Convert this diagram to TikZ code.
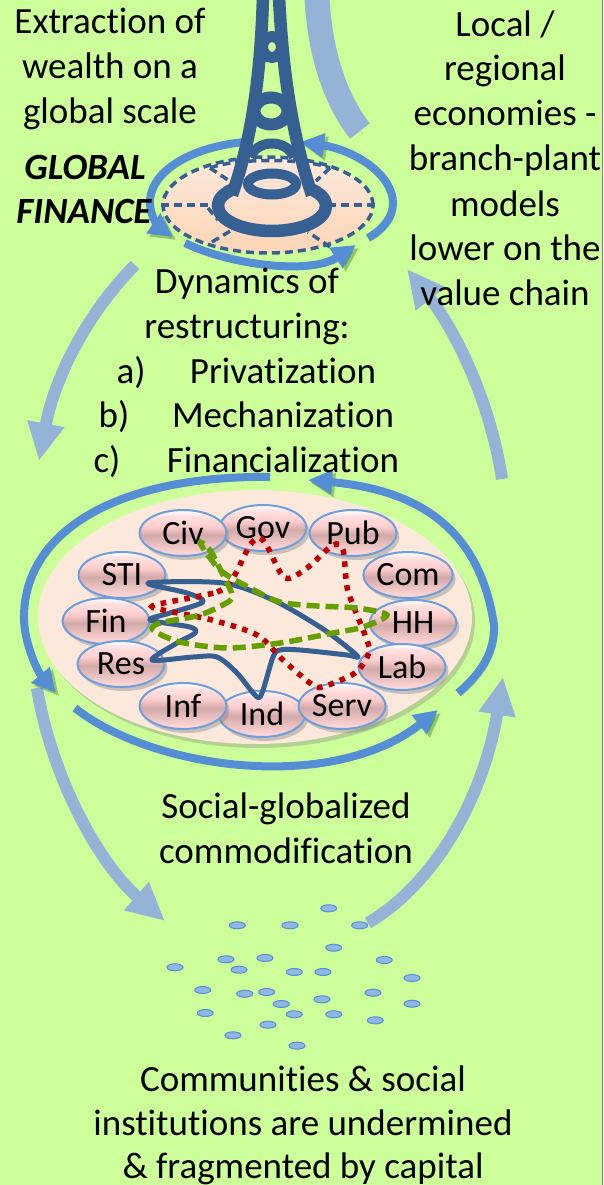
\documentclass[tikz,border=0pt]{standalone}
\usepackage{fontspec}
\setmainfont{Carlito}[RawFeature = {-liga;-clig;-calt}]
\usetikzlibrary{arrows.meta,shapes.geometric,shadows}

\definecolor{pagegreen}{HTML}{CCFF99}
\definecolor{paleblue}{HTML}{95B3D7}
\definecolor{midblue}{HTML}{558ED5}
\definecolor{deepblue}{HTML}{376092}
\definecolor{peach}{HTML}{FCE9DC}
\definecolor{peachdark}{HTML}{FCD5B5}
\definecolor{dotred}{HTML}{C00000}
\definecolor{dashgreen}{HTML}{669F00}

\pgfdeclareverticalshading{pinkball}{100bp}{
	color(0bp)=(pink!65!white);
	color(25bp)=(pink!65!white);
	color(28bp)=(pink!65!white);
	color(48bp)=(pink!65!gray);
	color(58bp)=(pink!75!white);
	color(68bp)=(pink!50!white);
	color(75bp)=(white);
	color(100bp)=(white)}

\tikzset{
	softshadow/.style = {preaction = {draw = black!70!green, opacity = .3, transform canvas = {shift = {(3pt, -3pt)}}}},
	ball/.style = {ellipse, draw = midblue!85!white, line width = 2pt, shading = pinkball, minimum width = 87pt, minimum height = 46pt, inner sep = 0pt, font = \fontsize{34}{34}\selectfont, drop shadow = {shadow xshift = 3pt, shadow yshift = -4pt, opacity = .4}},
	speck/.style = {ellipse, draw = midblue, line width = 1pt, fill = midblue!65!white, minimum width = 16pt, minimum height = 7pt, inner sep = 0pt},
	words/.style = {anchor = base, inner sep = 0pt, font = \fontsize{37}{37}\selectfont},
	bigwords/.style = {words, font = \fontsize{37}{37}\selectfont\bfseries\itshape},
	palearrow/.style = {draw = paleblue, line width = 12pt, -{Triangle[length = 38pt, width = 35pt]}},
	midarc/.style = {draw = midblue, line width = 8pt, softshadow, -{Triangle[length = 24pt, width = 23pt]}},
	towerline/.style = {draw = deepblue, line width = 12.5pt},
	webline/.style = {draw = deepblue, line width = 3.5pt, dash pattern = on 8pt off 5pt},
	solidloop/.style = {draw = deepblue, line width = 5pt, line join = round},
	redloop/.style = {draw = dotred, line width = 5.5pt, dash pattern = on 5.5pt off 6.5pt},
	greenloop/.style = {draw = dashgreen, line width = 5.5pt, dash pattern = on 13pt off 6pt}
}

\begin{document}
\begin{tikzpicture}[x = 1pt, y = -1pt]
	\path [use as bounding box, fill = pagegreen] (0, 0) rectangle (603, 1185);
	\draw [gray, line width = 1pt] (602.5, 0) -- (602.5, 1185);

	% top plate
	\node [ellipse, draw = none, minimum width = 210pt, minimum height = 96pt, inner sep = 0pt, top color = peach, bottom color = peachdark] (plate) at (268, 205) {};
	\node [ellipse, webline, minimum width = 210pt, minimum height = 96pt, inner sep = 0pt] (rim) at (268, 205) {};
	\draw [webline] (210, 168) .. controls (235, 158) and (305, 158) .. (330, 168);
	\draw [webline] (210, 168) -- (228, 180);
	\draw [webline] (330, 168) -- (316, 181);
	\draw [webline] (rim.west) -- (210, 205);
	\draw [webline] (rim.east) -- (332, 205);
	\draw [webline] (212, 242) -- (232, 230);
	\draw [webline] (330, 247) -- (308, 232);
	\draw [webline] (208, 208) -- (218, 220);

	% arcs round the plate
	\coordinate (plateA) at (245, 142);
	\coordinate (plateB) at (173, 237);
	\coordinate (plateC) at (368, 238);
	\coordinate (plateD) at (300, 142);
	\coordinate (plateE) at (185, 243);
	\coordinate (plateF) at (356, 245);
	\draw [midarc] (plateA) .. controls (190, 147) and (148, 172) .. (150, 205) .. controls (151, 218) and (160, 228) .. (plateB);
	\draw [midarc] (plateC) .. controls (385, 228) and (393, 216) .. (393, 203) .. controls (393, 175) and (355, 150) .. (plateD);
	\draw [midarc] (plateE) .. controls (230, 265) and (310, 275) .. (plateF);

	% pale band on top
	\coordinate (bandA) at (317, -4);
	\coordinate (bandB) at (360, 131);
	\draw [draw = paleblue, line width = 25pt, softshadow] (bandA) .. controls (319, 50) and (335, 100) .. (bandB);

	% tower
	\draw [towerline] (263, -3) .. controls (261, 60) and (255, 130) .. (232, 195);
	\draw [towerline] (279, -3) .. controls (282, 60) and (290, 130) .. (312, 195);
	\node [ellipse, draw = deepblue, line width = 11pt, minimum width = 19pt, minimum height = 21pt, inner sep = 0pt] (ringA) at (272, 47) {};
	\node [ellipse, draw = deepblue, line width = 12pt, minimum width = 33pt, minimum height = 27pt, inner sep = 0pt] (ringB) at (271, 111) {};
	\draw [towerline, line width = 10pt] (250, 157) .. controls (258, 139) and (286, 139) .. (294, 157);
	\node [ellipse, draw = deepblue, line width = 10pt, minimum width = 48pt, minimum height = 21pt, inner sep = 0pt] (ringC) at (272, 184) {};
	\draw [towerline] (236, 188) .. controls (225, 192) and (218, 198) .. (218, 206) .. controls (218, 220) and (242, 231) .. (272, 231) .. controls (302, 231) and (326, 220) .. (326, 206) .. controls (326, 198) and (319, 192) .. (308, 188);

	% long arrows
	\coordinate (leftA) at (135, 265);
	\coordinate (leftB) at (39, 461);
	\coordinate (rightA) at (502, 479);
	\coordinate (rightB) at (407, 269);
	\coordinate (lowA) at (37, 688);
	\coordinate (lowB) at (165, 921);
	\coordinate (upA) at (368, 923);
	\coordinate (upB) at (503, 677);
	\draw [palearrow] (leftA) .. controls (90, 310) and (55, 375) .. (leftB);
	\draw [palearrow] (rightA) .. controls (490, 400) and (455, 330) .. (rightB);
	\draw [palearrow] (lowA) .. controls (50, 770) and (95, 860) .. (lowB);
	\draw [palearrow] (upA) .. controls (440, 880) and (485, 790) .. (upB);

	% big oval
	\node [ellipse, fill = peach, minimum width = 434pt, minimum height = 254pt, inner sep = 0pt, drop shadow = {shadow xshift = 3pt, shadow yshift = -4pt, opacity = .35}] (oval) at (255, 617) {};

	% arcs round the oval
	\coordinate (ovalA) at (270, 477);
	\coordinate (ovalB) at (56, 693);
	\coordinate (ovalC) at (75, 708);
	\coordinate (ovalD) at (438, 710);
	\coordinate (ovalE) at (458, 693);
	\coordinate (ovalF) at (308, 480);
	\draw [midarc] (ovalA) .. controls (120, 475) and (22, 530) .. (24, 620) .. controls (25, 645) and (38, 672) .. (ovalB);
	\draw [midarc] (ovalC) .. controls (150, 768) and (330, 795) .. (ovalD);
	\draw [midarc] (ovalE) .. controls (483, 672) and (495, 650) .. (494, 625) .. controls (480, 530) and (420, 490) .. (ovalF);

	% sectors
	\node [ball] (gov) at (263, 528) {Gov};
	\node [ball] (civ) at (183, 533) {Civ};
	\node [ball] (ind) at (262, 714) {Ind};
	\node [ball] (inf) at (183, 706) {Inf};
	\node [ball] (serv) at (342, 706) {Serv};
	\node [ball] (sti) at (122, 575) {STI};
	\node [ball] (fin) at (106, 621) {Fin};
	\node [ball] (res) at (121, 664) {Res};
	\node [ball] (pub) at (353, 533) {Pub};
	\node [ball] (com) at (408, 575) {Com};
	\node [ball] (hh) at (413, 623) {HH};
	\node [ball] (lab) at (402, 667) {Lab};

	% loops over the sectors
	\draw [solidloop] plot [smooth cycle, tension = .5] coordinates {(148, 583) (223, 583) (273, 600) (320, 627) (347, 647) (358, 657) (347, 655) (300, 650) (280, 650) (273, 657) (263, 690) (257, 697) (237, 673) (217, 657) (193, 657) (152, 660) (177, 643) (195, 633) (190, 627) (150, 620) (170, 613) (203, 602) (187, 593)};
	\draw [redloop] plot [smooth cycle, tension = .5] coordinates {(155, 605) (217, 592) (233, 578) (250, 545) (260, 538) (268, 548) (285, 578) (307, 568) (333, 545) (343, 550) (347, 587) (355, 610) (368, 643) (368, 655) (355, 673) (322, 687) (310, 683) (283, 660) (257, 635) (212, 620) (163, 610)};
	\draw [greenloop] plot [smooth cycle, tension = .5] coordinates {(200, 543) (220, 570) (250, 588) (280, 602) (317, 606) (357, 608) (387, 615) (363, 627) (333, 633) (280, 643) (227, 648) (180, 642) (153, 630) (160, 623) (200, 615) (228, 602) (232, 595) (227, 583) (210, 550)};

	% scattered communities
	\node [speck] (d1) at (328.7, 908.3) {};
	\node [speck] (d2) at (237.3, 925.3) {};
	\node [speck] (d3) at (290, 925.3) {};
	\node [speck] (d4) at (359.7, 925.3) {};
	\node [speck] (d5) at (333.7, 947.7) {};
	\node [speck] (d6) at (226, 959.3) {};
	\node [speck] (d7) at (265, 958) {};
	\node [speck] (d8) at (384.3, 960) {};
	\node [speck] (d9) at (175, 967.3) {};
	\node [speck] (d10) at (239, 969.7) {};
	\node [speck] (d11) at (294.3, 972) {};
	\node [speck] (d12) at (323, 972) {};
	\node [speck] (d13) at (412, 978) {};
	\node [speck] (d14) at (202.7, 990) {};
	\node [speck] (d15) at (244.7, 993.7) {};
	\node [speck] (d16) at (266.7, 992) {};
	\node [speck] (d17) at (373, 992.7) {};
	\node [speck] (d18) at (281.3, 1004) {};
	\node [speck] (d19) at (322, 999.3) {};
	\node [speck] (d20) at (412, 1003.7) {};
	\node [speck] (d21) at (205.3, 1013) {};
	\node [speck] (d22) at (294.3, 1014.3) {};
	\node [speck] (d23) at (333.7, 1014.3) {};
	\node [speck] (d24) at (375.3, 1020.3) {};
	\node [speck] (d25) at (268, 1024.7) {};
	\node [speck] (d26) at (233, 1035.3) {};
	\node [speck] (d27) at (297, 1045.7) {};

	% top left text
	\node [words] (extractA) at (110, 34) {Extraction of};
	\node [words] (extractB) at (110, 79) {wealth on a};
	\node [words] (extractC) at (110, 124) {global scale};
	\node [bigwords] (globalA) at (85, 179) {GLOBAL};
	\node [bigwords] (globalB) at (84, 223) {FINANCE};

	% right text
	\node [words] (localA) at (505, 37) {Local /};
	\node [words] (localB) at (505, 81) {regional};
	\node [words] (localC) at (505, 126) {economies -};
	\node [words] (localD) at (505, 171) {branch-plant};
	\node [words] (localE) at (505, 216) {models};
	\node [words] (localF) at (505, 260) {lower on the};
	\node [words] (localG) at (505, 305) {value chain};

	% middle text
	\node [words] (dynA) at (247, 293) {Dynamics of};
	\node [words] (dynB) at (247, 338) {restructuring:};
	\node [words] (itemA) at (131, 383) {a)};
	\node [words] (privat) at (283, 383) {Privatization};
	\node [words] (itemB) at (114, 427) {b)};
	\node [words] (mechan) at (283, 427) {Mechanization};
	\node [words] (itemC) at (107, 472) {c)};
	\node [words] (financ) at (283, 472) {Financialization};

	% lower text
	\node [words] (socialA) at (286, 818) {Social-globalized};
	\node [words] (socialB) at (286, 863) {commodification};
	\node [words] (commA) at (303, 1091) {Communities \& social};
	\node [words] (commB) at (303, 1135) {institutions are undermined};
	\node [words] (commC) at (303, 1178) {\& fragmented by capital};
\end{tikzpicture}
\end{document}
